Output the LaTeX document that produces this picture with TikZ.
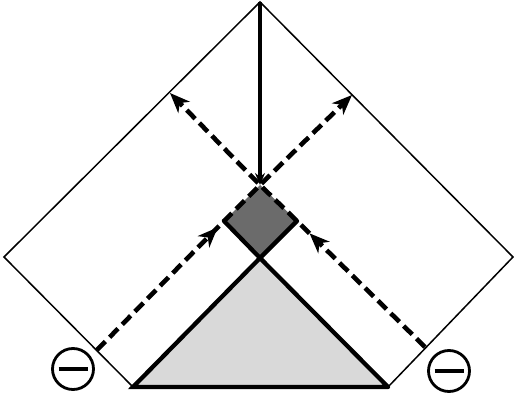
\documentclass[tikz,border=0pt]{standalone}
\usepackage{xcolor}
\usepackage{tikz}
\usetikzlibrary{
  arrows.meta,
  decorations.markings
}
\tikzset{
  edgeline/.style={
    draw=black,
    line width=1.5pt,
  },
  thickline/.style={
    draw=black,
    line width=4.3pt,
    line cap=round,
  },
  rayline/.style={
    draw=black,
    line width=4.6pt,
    dash pattern=on 12pt off 6pt,
    -{Stealth[length=20pt, width=16pt, inset=6pt]},
  },
  midarrow/.style={
    postaction={decorate},
    decoration={markings,
      mark=at position #1 with {\arrow{Stealth[length=20pt, width=16pt, inset=6pt]}}},
  },
  chargecirc/.style={
    circle,
    draw=black,
    line width=2.8pt,
    minimum size=41pt,
    inner sep=0pt,
  },
}

\begin{document}
\begin{tikzpicture}[x=1pt, y=-1pt]
  \useasboundingbox (0,0) rectangle (514,401);

  % corners of the outer boundary
  \coordinate (apex)    at (260,2);
  \coordinate (cornerL) at (4,257);
  \coordinate (cornerR) at (513,257);
  \coordinate (baseL)   at (133,387);
  \coordinate (baseR)   at (388,387);

  % inner triangle and square
  \coordinate (tip) at (260,258);
  \coordinate (sqT) at (260,185);
  \coordinate (sqL) at (224,221);
  \coordinate (sqR) at (297,221);

  % ends of the dashed rays
  \coordinate (inL)  at (97,350);
  \coordinate (inR)  at (425,347);
  \coordinate (outL) at (170,93);
  \coordinate (outR) at (352,95);

  % fills
  \fill[black!15] (baseL) -- (tip) -- (baseR) -- cycle;
  \fill[black!58] (tip) -- (sqL) -- (sqT) -- (sqR) -- cycle;

  % outer boundary
  \draw[edgeline] (baseL) -- (cornerL) -- (apex) -- (cornerR) -- (baseR);

  % triangle and lower edges of the square
  \draw[thickline] (baseR) -- (baseL) -- (tip) -- (baseR);
  \draw[thickline] (sqL) -- (tip) -- (sqR);

  % vertical line down to the square
  \draw[thickline, line cap=butt, -{Stealth[length=12pt, width=10pt]}] (apex) -- (sqT);

  % dashed rays
  \draw[rayline, midarrow=172pt] (inL) -- (sqL) -- (sqT) -- (outR);
  \draw[rayline, midarrow=162pt] (inR) -- (sqR) -- (sqT) -- (outL);

  % charges
  \node[chargecirc] (minusL) at (73,369) {\rule{29pt}{3.4pt}};
  \node[chargecirc] (minusR) at (449,371) {\rule{29pt}{3.4pt}};
\end{tikzpicture}
\end{document}
